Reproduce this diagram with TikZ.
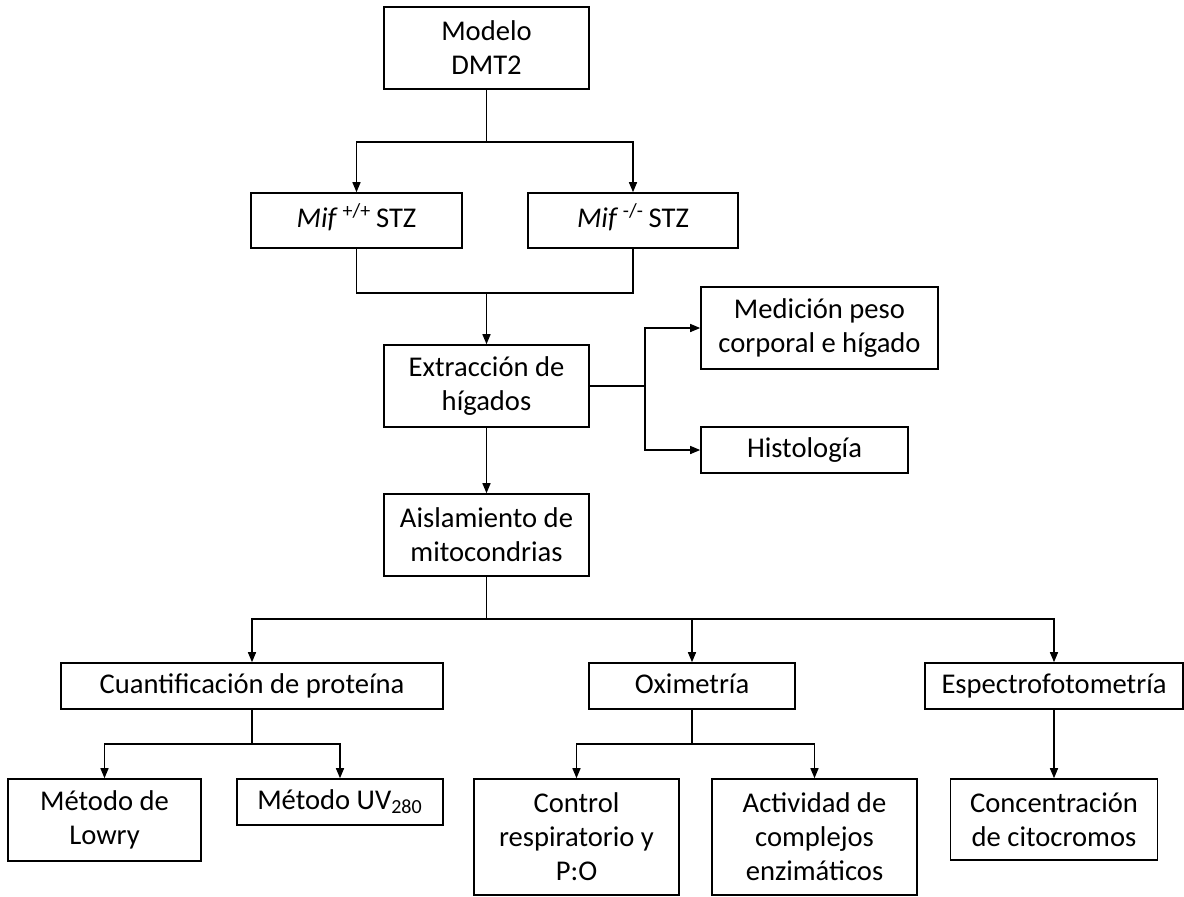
\documentclass[tikz,border=0pt]{standalone}
\usepackage{fontspec}
\setmainfont{Carlito}
\usetikzlibrary{arrows.meta}
\tikzset{
  box/.style={draw=black, line width=0.8pt, align=center, inner sep=0pt,
    font=\fontsize{14.3}{17}\selectfont},
  oneline/.style={box, text height=10pt, text depth=3pt},
  arr/.style={-{Triangle[length=5pt,width=4pt]}},
  wire/.style={draw=black, line width=0.7pt}
}
\begin{document}
\begin{tikzpicture}[x=0.5pt,y=-0.5pt]
\useasboundingbox (0,0) rectangle (1184,896);

% boxes:
\node[box, minimum width=102.5pt, minimum height=41pt] (modelo) at (486.5,48) {Modelo\\DMT2};
\node[oneline, minimum width=105.5pt, minimum height=27.5pt] (mifwt) at (356.5,220.5) {\textit{Mif}\,\textsuperscript{+/+}\,STZ};
\node[oneline, minimum width=105pt, minimum height=27.5pt] (mifko) at (633,220.5) {\textit{Mif}\,\textsuperscript{-/-}\,STZ};
\node[box, minimum width=102.5pt, minimum height=41pt] (extr) at (486.5,386) {Extracción de\\hígados};
\node[box, minimum width=118.5pt, minimum height=41pt] (medic) at (819.5,328) {Medición peso\\corporal e hígado};
\node[oneline, minimum width=103.5pt, minimum height=23pt] (histo) at (804.5,450) {Histología};
\node[box, minimum width=102.5pt, minimum height=41pt] (aisl) at (486.5,535) {Aislamiento de\\mitocondrias};
\node[oneline, minimum width=191pt, minimum height=23pt] (cuant) at (252,686) {Cuantificación de proteína};
\node[oneline, minimum width=103pt, minimum height=23pt] (oxi) at (692,686) {Oximetría};
\node[oneline, minimum width=129pt, minimum height=23pt] (espec) at (1054,686) {Espectrofotometría};
\node[box, minimum width=96.5pt, minimum height=41pt] (lowry) at (104.5,820) {Método de\\Lowry};
\node[oneline, minimum width=103pt, minimum height=23pt] (uv) at (340,802) {Método UV\textsubscript{280}};
\node[box, minimum width=102.5pt, minimum height=58pt] (control) at (576.5,837) {Control\\respiratorio y\\P:O};
\node[box, minimum width=102.5pt, minimum height=58pt] (activ) at (814.5,837) {Actividad de\\complejos\\enzimáticos};
\node[box, minimum width=103.5pt, minimum height=40.5pt] (concen) at (1054,819.5) {Concentración\\de citocromos};

% connectors:
\coordinate (s1) at (486.5,142);
\coordinate (m1) at (486.5,293);
\coordinate (b1) at (645,386);
\coordinate (s2) at (486.5,619);
\coordinate (s3) at (252,744);
\coordinate (s4) at (692,744);

\draw[wire] (modelo.south) -- (s1);
\draw[wire,arr] (s1) -| (mifwt.north);
\draw[wire,arr] (s1) -| (mifko.north);
\draw[wire] (mifwt.south) |- (m1);
\draw[wire] (mifko.south) |- (m1);
\draw[wire,arr] (m1) -- (extr.north);
\draw[wire] (extr.east) -- (b1);
\draw[wire,arr] (b1) |- (medic.west);
\draw[wire,arr] (b1) |- (histo.west);
\draw[wire,arr] (extr.south) -- (aisl.north);
\draw[wire] (aisl.south) -- (s2);
\draw[wire,arr] (s2) -| (cuant.north);
\draw[wire,arr] (s2) -| (oxi.north);
\draw[wire,arr] (s2) -| (espec.north);
\draw[wire] (cuant.south) -- (s3);
\draw[wire,arr] (s3) -| (lowry.north);
\draw[wire,arr] (s3) -| (uv.north);
\draw[wire] (oxi.south) -- (s4);
\draw[wire,arr] (s4) -| (control.north);
\draw[wire,arr] (s4) -| (activ.north);
\draw[wire,arr] (espec.south) -- (concen.north);

\end{tikzpicture}
\end{document}
